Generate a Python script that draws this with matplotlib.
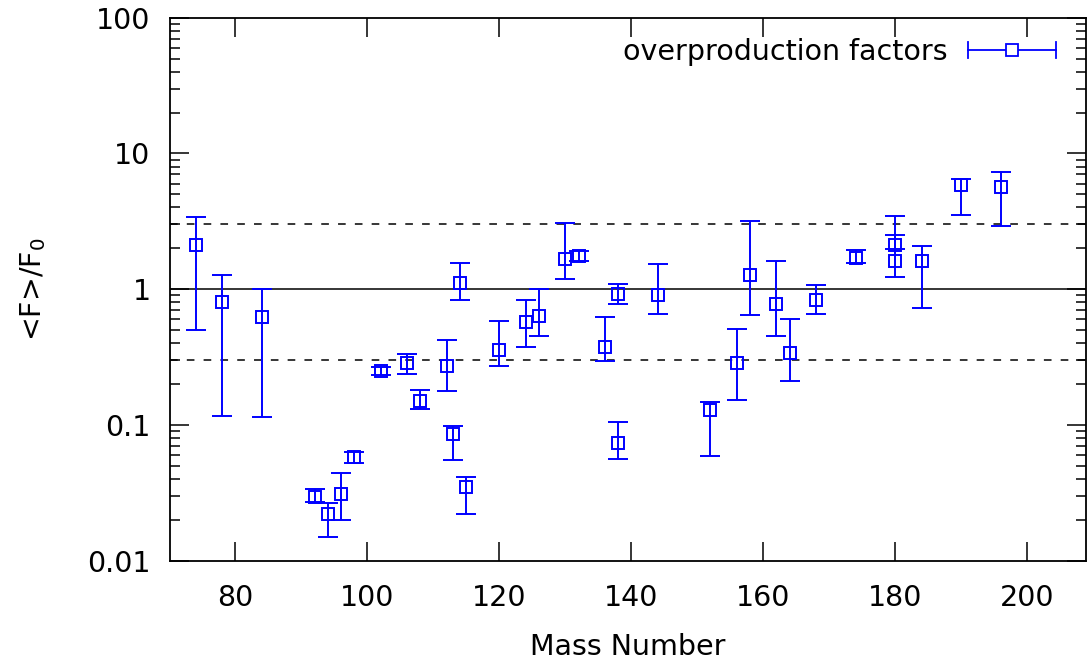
import numpy as np
import matplotlib.pyplot as plt
from matplotlib.lines import Line2D
from matplotlib.legend_handler import HandlerBase
from matplotlib.ticker import LogLocator, FixedLocator, NullFormatter, FuncFormatter

# mass number, overproduction factor and error bar ends
mass = [74, 78, 84, 92, 94, 96, 98, 102, 106, 108, 112, 113, 114, 115,
        120, 124, 126, 130, 132, 136, 138, 138, 144, 152, 156, 158, 162,
        164, 168, 174, 180, 180, 184, 190, 196]
factor = [2.12, 0.80, 0.62, 0.0294, 0.0221, 0.0311, 0.0585, 0.25, 0.286,
          0.150, 0.272, 0.0855, 1.11, 0.0352, 0.356, 0.571, 0.633, 1.66,
          1.77, 0.378, 0.924, 0.0738, 0.912, 0.128, 0.285, 1.28, 0.784,
          0.341, 0.83, 1.71, 2.10, 1.61, 1.61, 5.83, 5.64]
upper = [3.43, 1.28, 1.00, 0.034, 0.0268, 0.0439, 0.0637, 0.265, 0.332,
         0.180, 0.424, 0.0984, 1.55, 0.0417, 0.58, 0.838, 1.00, 3.08,
         1.92, 0.625, 1.10, 0.105, 1.53, 0.148, 0.505, 3.18, 1.60,
         0.604, 1.08, 1.95, 3.47, 2.51, 2.08, 6.52, 7.28]
lower = [0.50, 0.117, 0.115, 0.027, 0.015, 0.020, 0.0524, 0.233, 0.239,
         0.132, 0.177, 0.0554, 0.83, 0.0221, 0.274, 0.377, 0.453, 1.19,
         1.62, 0.298, 0.775, 0.0562, 0.658, 0.059, 0.153, 0.643, 0.453,
         0.211, 0.661, 1.55, 1.97, 1.24, 0.724, 3.52, 2.94]

ref_line = 1.0
band = [0.3, 3.0]

blue = '#0000ff'


class HandlerXErr(HandlerBase):
    # gnuplot style key: horizontal bar with end caps and the point in the middle
    def create_artists(self, legend, orig_handle, xdescent, ydescent,
                       width, height, fontsize, trans):
        yc = height / 2 - ydescent
        x0, x1 = -xdescent, width - xdescent
        cap = 0.4 * height
        arts = [
            Line2D([x0, x1], [yc, yc], color=blue, lw=1.3),
            Line2D([x0, x0], [yc - cap, yc + cap], color=blue, lw=1.3),
            Line2D([x1, x1], [yc - cap, yc + cap], color=blue, lw=1.3),
            Line2D([(x0 + x1) / 2], [yc], marker='s', ms=8, mfc='white',
                   mec=blue, mew=1.3, ls='none'),
        ]
        for a in arts:
            a.set_transform(trans)
        return arts


plt.rcParams['font.family'] = 'DejaVu Sans'
plt.rcParams['font.size'] = 20.5

fig = plt.figure(figsize=(10.88, 6.63), dpi=100)
ax = fig.add_axes([170/1088, 1 - 560.7/663, (1086 - 170)/1088, (560.7 - 17.7)/663])

ax.axhline(ref_line, color='black', lw=1.1, zorder=1)
for b in band:
    ax.axhline(b, color='black', lw=1.1, ls=(0, (5, 6)), zorder=1)

y = np.array(factor)
yerr = [y - np.array(lower), np.array(upper) - y]
eb = ax.errorbar(mass, factor, yerr=yerr, fmt='s', color=blue, mfc='none',
                 mec=blue, ms=8, mew=1.4, elinewidth=1.4, capsize=7,
                 capthick=1.4, zorder=3)

ax.set_yscale('log')
ax.set_xlim(70.1, 208.9)
ax.set_ylim(0.01, 100)
ax.xaxis.set_major_locator(FixedLocator([80, 100, 120, 140, 160, 180, 200]))
ax.yaxis.set_major_locator(FixedLocator([0.01, 0.1, 1, 10, 100]))
ax.yaxis.set_major_formatter(FuncFormatter(lambda v, p: f'{v:g}'))
ax.yaxis.set_minor_locator(LogLocator(base=10, subs=np.arange(2, 10)))
ax.yaxis.set_minor_formatter(NullFormatter())

ax.tick_params(which='both', direction='in', top=True, right=True, width=1.1)
ax.tick_params(which='major', length=14)
ax.tick_params(which='minor', length=7)
ax.tick_params(axis='y', which='major', pad=14)
ax.tick_params(axis='x', which='major', pad=17)
for s in ax.spines.values():
    s.set_linewidth(1.3)

ax.set_xlabel('Mass Number', labelpad=15)
ax.set_ylabel('<F>/F$_0$', labelpad=28)

proxy = object()
ax.legend([proxy], ['overproduction factors'], handler_map={proxy: HandlerXErr()},
          loc='upper right', bbox_to_anchor=(1 - 0.0203, 1 - 0.0162),
          frameon=False, handlelength=3.1, handletextpad=0.7,
          borderaxespad=0, markerfirst=False)

fig.savefig('out.png', dpi=100)
